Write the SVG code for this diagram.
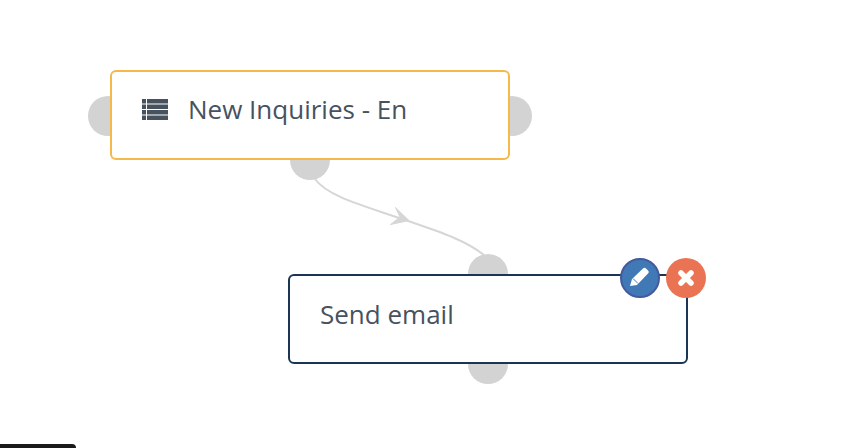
<svg xmlns="http://www.w3.org/2000/svg" width="842" height="448" viewBox="0 0 842 448">
<style>
.port{fill:#d3d3d3}
.box{fill:#fff;stroke-width:2}
.lbl{font-family:"Open Sans","Noto Sans",sans-serif;font-size:26px;fill:#47525f}
.ic{fill:#47525f}
.wire{fill:none;stroke:#d6d6d6;stroke-width:2}
</style>
<rect width="842" height="448" fill="#fff"/>
<g id="connectors">
<path class="wire" d="M315 179C328 197 365 206 408 221C440 232 465 240 484 255"/>
<path d="M390.500 224.500L409 220.500L395.500 207.500L400 217Z" fill="#d6d6d6" stroke="#d6d6d6" stroke-width="1" stroke-linejoin="round"/>
</g>
<g id="node-new-inquiries">
<circle class="port" cx="108" cy="116" r="20"/>
<circle class="port" cx="512" cy="116" r="20"/>
<circle class="port" cx="310" cy="160" r="20"/>
<rect class="box" x="111" y="71" width="398" height="88" rx="5" stroke="#f5b94a"/>
<g class="ic">
<rect x="142" y="99" width="4" height="4.500"/><rect x="147" y="99" width="21" height="4.500"/>
<rect x="142" y="104.500" width="4" height="4.500"/><rect x="147" y="104.500" width="21" height="4.500"/>
<rect x="142" y="110" width="4" height="4.500"/><rect x="147" y="110" width="21" height="4.500"/>
<rect x="142" y="115.500" width="4" height="4.500"/><rect x="147" y="115.500" width="21" height="4.500"/>
</g>
<text class="lbl" x="188" y="119">New Inquiries - En</text>
</g>
<g id="node-send-email">
<circle class="port" cx="488" cy="274" r="20"/>
<circle class="port" cx="488" cy="364" r="20"/>
<rect class="box" x="289" y="275" width="398" height="88" rx="5" stroke="#1c3555"/>
<text class="lbl" x="320" y="324">Send email</text>
</g>
<g id="button-edit">
<circle cx="640" cy="278" r="19" fill="#4179b6" stroke="#435a9c" stroke-width="2"/>
<path d="M630 286L632 279L643 268.500C644 267.500 645 267.500 646 268.500L648 270.500C649 271.500 649 272.500 648 273.500L637 285Z" fill="#fff"/>
<path d="M633 278.500L638 283.500" stroke="#4179b6" stroke-width="1" fill="none"/>
</g>
<g id="button-delete">
<circle cx="686" cy="278" r="20" fill="#e97352"/>
<path d="M681 273L691 283M691 273L681 283" stroke="#fff" stroke-width="5.500" stroke-linecap="round" fill="none"/>
</g>
<path d="M0 448V444H72Q76 444 76 448Z" fill="#1a1a1a"/>
</svg>
